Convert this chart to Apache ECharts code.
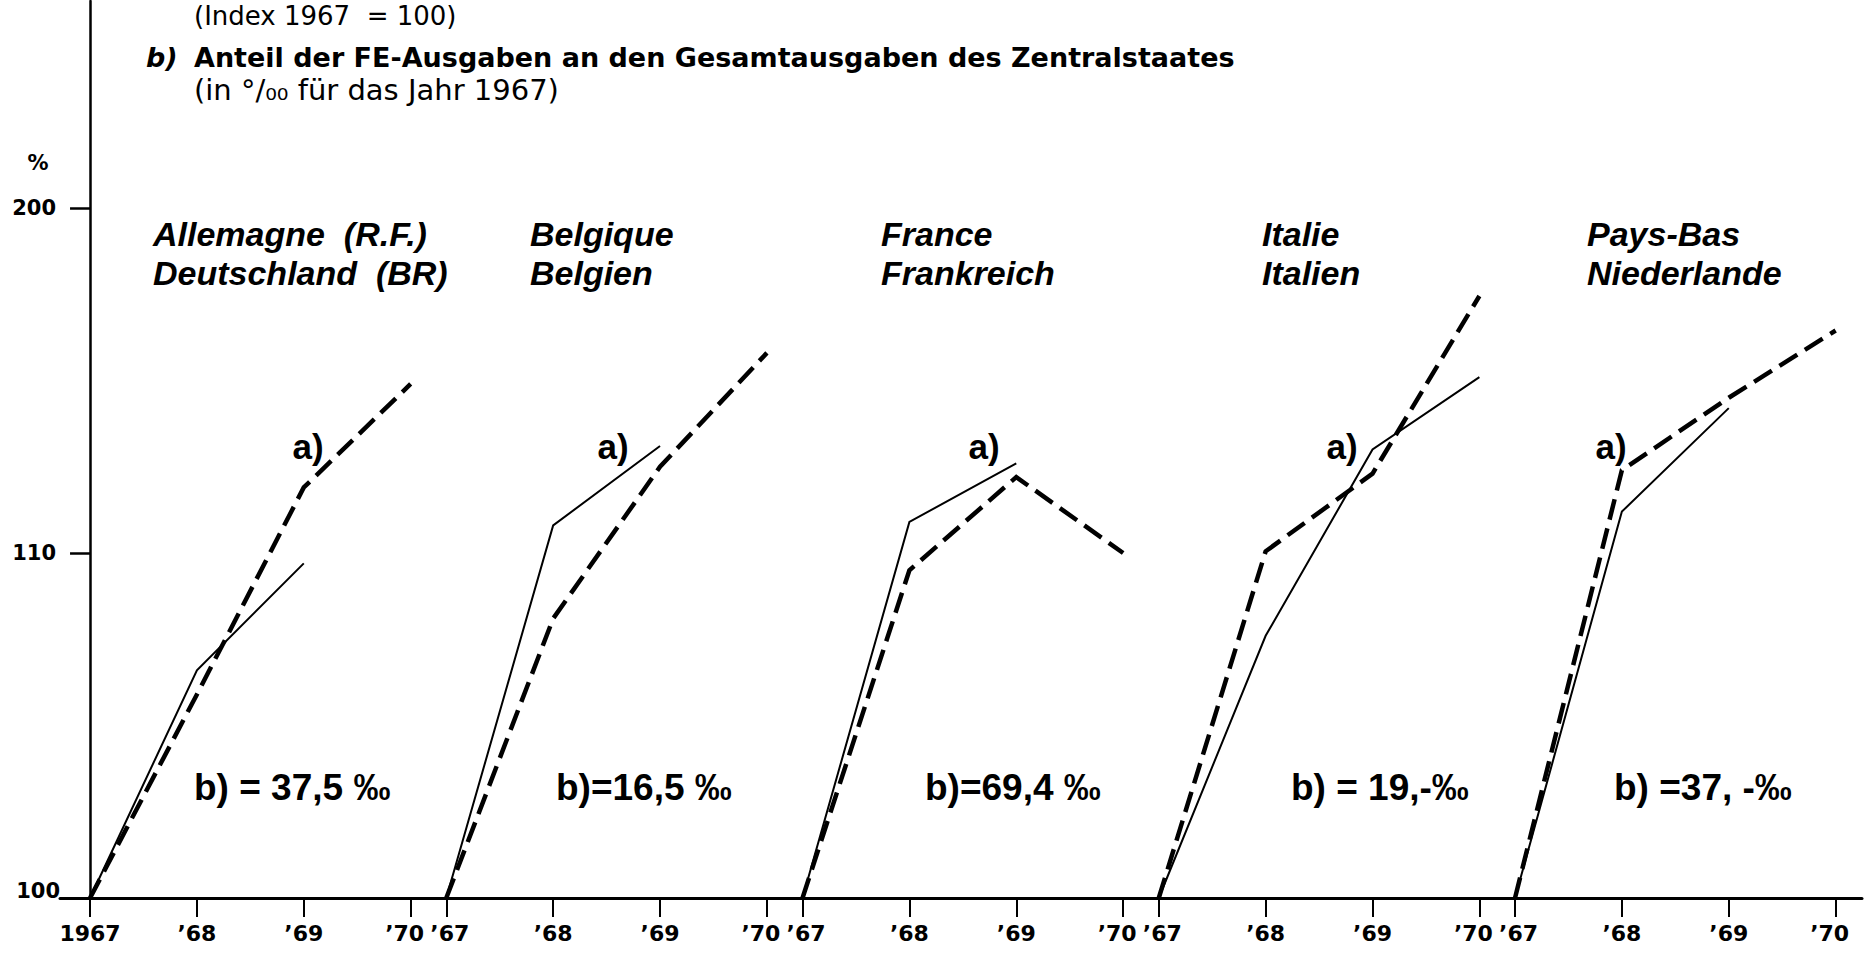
<!DOCTYPE html>
<html>
<head>
<meta charset="utf-8">
<script src="https://cdn.jsdelivr.net/npm/echarts@6/dist/echarts.min.js"></script>
<style>
html,body{margin:0;padding:0;background:#fff;}
#c{width:1871px;height:957px;}
</style>
</head>
<body>
<div id="c"></div>
<script>
// ---------- data ----------
const years = [1967, 1968, 1969, 1970];
const yTickValues = [100, 110, 120];
const yTickLabels = ['100', '110', '200'];
const countryNamesFr = ['Allemagne  (R.F.)', 'Belgique', 'France', 'Italie', 'Pays-Bas'];
const countryNamesDe = ['Deutschland  (BR)', 'Belgien', 'Frankreich', 'Italien', 'Niederlande'];
const shareLabels = ['b) = 37,5 ‰', 'b)=16,5 ‰', 'b)=69,4 ‰', 'b) = 19,-‰', 'b) =37, -‰'];

// solid line (index 1967 = 100)
const germanySolid      = [100, 106.6, 109.7, null];
const belgiumSolid      = [100, 110.8, 113.1, null];
const franceSolid       = [100, 110.9, 112.6, null];
const italySolid        = [100, 107.6, 113.0, 115.1];
const netherlandsSolid  = [100, 111.2, 114.2, null];
// dashed line (index 1967 = 100)
const germanyDashed     = [100, 105.9, 111.9, 114.9];
const belgiumDashed     = [100, 108.1, 112.5, 115.8];
const franceDashed      = [100, 109.5, 112.2, 110.0];
const italyDashed       = [100, 110.05, 112.3, 117.45];
const netherlandsDashed = [100, 112.4, 114.5, 116.45];

const solidSets  = [germanySolid, belgiumSolid, franceSolid, italySolid, netherlandsSolid];
const dashedSets = [germanyDashed, belgiumDashed, franceDashed, italyDashed, netherlandsDashed];

// ---------- layout helpers ----------
const PANEL_STEP = 10 / 3;           // panel offset on the shared x scale (in years)
const xPos = (p, i) => p * PANEL_STEP + i;

const tickPos = [], tickLab = [];
countryNamesFr.forEach((c, p) => {
  years.forEach((y, i) => {
    tickPos.push(xPos(p, i));
    tickLab.push(p === 0 && i === 0 ? String(y) : '’' + String(y).slice(2));
  });
});

function toPairs(p, arr) {
  const out = [];
  arr.forEach((v, i) => { if (v !== null) out.push([xPos(p, i), v]); });
  return out;
}

const series = [];
solidSets.forEach((arr, p) => {
  series.push({
    name: countryNamesDe[p] + ' (—)', type: 'line', data: toPairs(p, arr),
    symbol: 'none', silent: true, z: 3,
    lineStyle: { color: '#000', width: 2, type: 'solid', join: 'miter' }
  });
});
dashedSets.forEach((arr, p) => {
  series.push({
    name: countryNamesDe[p] + ' (– –)', type: 'line', data: toPairs(p, arr),
    symbol: 'none', silent: true, z: 4,
    lineStyle: { color: '#000', width: 4.5, type: [21, 9], cap: 'butt', join: 'miter' }
  });
});

// ---------- annotations ----------
const g = [];
function txt(x, y, text, font, align) {
  g.push({ type: 'text', x: x, y: y, silent: true, z: 10,
    style: { text: text, font: font, fill: '#000', align: align || 'left', verticalAlign: 'middle' } });
}
txt(194, 16, '(Index 1967  = 100)', '26px "DejaVu Sans"');
txt(146, 57, 'b)', 'italic bold 27px "DejaVu Sans"');
txt(194, 57, 'Anteil der FE-Ausgaben an den Gesamtausgaben des Zentralstaates', 'bold 27px "DejaVu Sans"');
txt(194, 90, '(in °/₀₀ für das Jahr 1967)', '29px "DejaVu Sans"');
txt(38, 163, '%', 'bold 21px "DejaVu Sans"', 'center');

const nameX = [153, 530, 881, 1262, 1587];
const aX = [308, 613, 984, 1342, 1611];
const bX = [194, 556, 925, 1291, 1614];
const F_NAME = 'italic bold 34px "Liberation Sans"';
const F_A = 'bold 35px "Liberation Sans"';
const F_B = 'bold 37px "Liberation Sans"';
countryNamesFr.forEach((n, p) => {
  txt(nameX[p], 234, n, F_NAME);
  txt(nameX[p], 273, countryNamesDe[p], F_NAME);
  txt(aX[p], 446, 'a)', F_A, 'center');
  txt(bX[p], 787, shareLabels[p], F_B);
});

// ---------- chart ----------
const chart = echarts.init(document.getElementById('c'), null, { renderer: 'svg', width: 1871, height: 957 });
chart.setOption({
  animation: false,
  backgroundColor: '#fff',
  grid: { left: 60, right: 9, top: 1, bottom: 59, containLabel: false, outerBoundsMode: 'none' },
  xAxis: {
    type: 'value', min: -0.281, max: 16.58,
    splitLine: { show: false },
    axisLine: { show: true, onZero: false, lineStyle: { color: '#000', width: 3 } },
    axisTick: { show: true, customValues: tickPos, length: 19, inside: false, lineStyle: { color: '#000', width: 2 } },
    axisLabel: {
      customValues: tickPos, margin: 24, color: '#000',
      fontFamily: 'DejaVu Sans', fontWeight: 'bold', fontSize: 22,
      formatter: function (v) {
        const k = tickPos.findIndex(t => Math.abs(t - v) < 1e-6);
        if (k < 0) return '';
        const lab = tickLab[k];
        if (lab === '’70') return '{l|' + lab + '}';
        if (lab === '’67') return '{r|' + lab + '}';
        return lab;
      },
      rich: {
        l: { fontFamily: 'DejaVu Sans', fontWeight: 'bold', fontSize: 22, color: '#000', padding: [0, 12, 0, 0] },
        r: { fontFamily: 'DejaVu Sans', fontWeight: 'bold', fontSize: 22, color: '#000', padding: [0, 0, 0, 7] }
      }
    }
  },
  yAxis: {
    type: 'value', min: 100, max: 126,
    splitLine: { show: false },
    axisLine: { show: true, onZero: true, lineStyle: { color: '#000', width: 2.5 } },
    axisTick: { show: true, customValues: yTickValues, length: 20, inside: false, lineStyle: { color: '#000', width: 2.5 } },
    axisLabel: {
      customValues: yTickValues, margin: 0, color: '#000',
      fontFamily: 'DejaVu Sans', fontWeight: 'bold', fontSize: 21,
      formatter: function (v) {
        const k = yTickValues.findIndex(t => Math.abs(t - v) < 1e-6);
        if (k < 0) return '';
        return k === 0 ? '{low|' + yTickLabels[k] + '}' : '{m|' + yTickLabels[k] + '}';
      },
      rich: {
        low: { fontFamily: 'DejaVu Sans', fontWeight: 'bold', fontSize: 21, color: '#000', padding: [0, 0, 14, 0] },
        m: { fontFamily: 'DejaVu Sans', fontWeight: 'bold', fontSize: 21, color: '#000', padding: [0, 4, 0, 0] }
      }
    }
  },
  graphic: g,
  series: series
});
</script>
</body>
</html>
